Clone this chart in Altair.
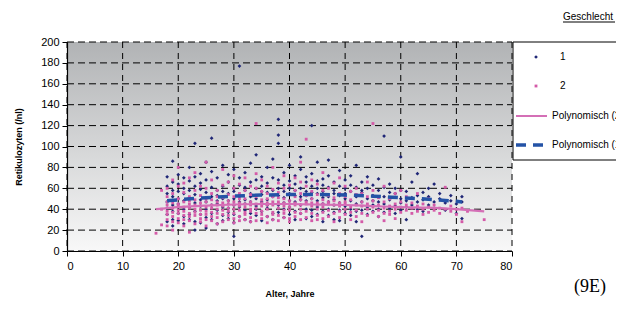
import altair as alt
import pandas as pd

# ---------------- data ----------------
X_TICKS = [0, 10, 20, 30, 40, 50, 60, 70, 80]
Y_TICKS = [0, 20, 40, 60, 80, 100, 120, 140, 160, 180, 200]

# Geschlecht 1 (blue): age -> reticulocyte values
SERIES_1 = {
    18: [47, 62, 35, 28, 55, 71, 41],
    19: [52, 66, 38, 30, 58, 86, 44, 24],
    20: [45, 73, 36, 57, 29, 50, 64],
    21: [40, 60, 33, 48, 70, 26, 55],
    22: [51, 42, 67, 35, 80, 30, 58],
    23: [103, 46, 62, 38, 54, 28, 71, 20],
    24: [49, 59, 35, 74, 43, 27, 65],
    25: [56, 40, 68, 32, 47, 85, 22],
    26: [108, 52, 44, 61, 36, 76, 30],
    27: [48, 58, 39, 70, 26, 53, 45],
    28: [62, 34, 50, 82, 42, 57, 29],
    29: [55, 41, 66, 31, 48, 73, 37],
    30: [50, 60, 35, 44, 78, 27, 57, 14],
    31: [177, 52, 42, 63, 33, 70, 47],
    32: [58, 39, 49, 75, 30, 61, 45],
    33: [47, 66, 36, 55, 84, 28, 52],
    34: [60, 43, 50, 68, 34, 92, 40],
    35: [54, 38, 62, 47, 29, 71, 57],
    36: [49, 65, 41, 80, 33, 56, 44],
    37: [58, 45, 70, 36, 52, 88, 30],
    38: [126, 111, 103, 60, 44, 53, 37, 68],
    39: [51, 63, 40, 75, 32, 57, 46],
    40: [55, 42, 67, 35, 48, 82, 60],
    41: [47, 58, 38, 72, 30, 53, 64],
    42: [60, 44, 52, 78, 36, 49, 90],
    43: [53, 66, 40, 48, 31, 71, 57],
    44: [120, 50, 62, 39, 56, 74, 33],
    45: [48, 60, 42, 55, 85, 35, 67],
    46: [57, 45, 69, 38, 51, 28, 63],
    47: [87, 52, 40, 61, 34, 72, 47],
    48: [49, 58, 37, 66, 44, 30, 55],
    49: [62, 46, 53, 77, 39, 29],
    50: [55, 43, 68, 36, 50, 60],
    51: [48, 57, 40, 72, 34, 63],
    52: [52, 45, 61, 38, 82, 28],
    53: [56, 14, 47, 66, 39, 58],
    54: [50, 60, 42, 71, 35],
    55: [53, 44, 63, 38, 48],
    56: [47, 58, 40, 69, 33],
    57: [110, 52, 45, 61, 37],
    58: [49, 56, 41, 64],
    59: [55, 43, 60, 36],
    60: [90, 50, 46, 58, 39],
    61: [48, 57, 42, 30],
    62: [66, 51, 44],
    63: [74, 47, 53, 40],
    64: [49, 56, 38],
    65: [52, 44, 60],
    66: [64, 47, 41],
    67: [50, 55],
    68: [46, 39],
    69: [48, 53],
    70: [45, 36],
    71: [31, 47, 52],
}

# Geschlecht 2 (pink)
SERIES_2 = {
    16: [17],
    17: [40, 58, 25],
    18: [44, 38, 52, 30, 60, 24, 47, 35],
    19: [41, 55, 33, 46, 28, 68, 37, 20],
    20: [43, 50, 36, 62, 27, 45, 39, 80, 31],
    21: [38, 47, 30, 56, 42, 24, 65, 34],
    22: [45, 36, 52, 29, 41, 70, 33, 48, 18],
    23: [40, 49, 34, 58, 26, 44, 37, 75],
    24: [46, 39, 53, 31, 43, 62, 28, 35],
    25: [42, 50, 35, 60, 24, 47, 38, 85, 30],
    26: [44, 37, 55, 29, 49, 41, 68, 33],
    27: [47, 40, 58, 32, 44, 26, 52, 36],
    28: [43, 51, 35, 63, 28, 46, 39, 78],
    29: [45, 38, 54, 30, 48, 41, 66, 34],
    30: [44, 52, 36, 60, 27, 47, 40, 72, 31],
    31: [46, 39, 55, 33, 43, 64, 29, 50],
    32: [42, 50, 37, 58, 30, 45, 70, 35],
    33: [47, 40, 54, 32, 44, 62, 28, 38],
    34: [122, 45, 52, 36, 60, 29, 41, 74],
    35: [43, 49, 35, 57, 31, 46, 68, 38],
    36: [46, 40, 55, 33, 44, 62, 27, 50],
    37: [44, 52, 37, 59, 30, 47, 80, 35],
    38: [47, 41, 56, 34, 45, 65, 29, 51],
    39: [43, 50, 36, 60, 32, 46, 72, 39],
    40: [45, 39, 54, 31, 48, 63, 28, 42],
    41: [46, 52, 37, 58, 33, 44, 70],
    42: [44, 40, 55, 30, 49, 66, 36, 85],
    43: [107, 45, 38, 53, 32, 47, 62],
    44: [43, 50, 36, 57, 29, 46, 68],
    45: [46, 40, 54, 34, 44, 64, 30],
    46: [42, 49, 37, 58, 31, 45, 75],
    47: [45, 39, 53, 33, 47, 60],
    48: [44, 51, 36, 28, 48, 65],
    49: [43, 38, 55, 32, 46, 70],
    50: [45, 40, 52, 35, 47, 62],
    51: [42, 49, 37, 57, 30],
    52: [44, 39, 54, 33, 60],
    53: [43, 47, 36, 55, 28],
    54: [45, 40, 52, 34, 66],
    55: [122, 42, 48, 37, 58],
    56: [44, 39, 51, 33],
    57: [41, 47, 36, 62, 29],
    58: [43, 38, 50, 35],
    59: [45, 40, 55, 31],
    60: [42, 47, 37, 58],
    61: [44, 39, 52],
    62: [41, 46, 36],
    63: [43, 38, 55],
    64: [40, 45, 35],
    65: [42, 37, 50],
    66: [39, 44],
    67: [41, 36],
    68: [61, 40],
    69: [38, 43],
    70: [40, 35],
    71: [28, 41],
    72: [38],
    75: [30],
}

# polynomial trend lines
TREND_1_AGES = [18, 20, 25, 30, 35, 40, 45, 50, 55, 60, 65, 70, 71]
TREND_1_VALS = [48, 49, 51, 52.5, 53.5, 54, 54, 53.5, 52.5, 51, 49.5, 47.5, 47]
TREND_2_AGES = [16, 20, 25, 30, 35, 40, 45, 50, 55, 60, 65, 70, 75]
TREND_2_VALS = [40, 42, 43.5, 44.5, 45, 45, 44.5, 44, 43, 42, 41.5, 40, 38]

LEGEND_TITLE = "Geschlecht"
LEGEND_LABELS = ["1", "2", "Polynomisch (2)", "Polynomisch (1)"]
X_TITLE = "Alter, Jahre"
Y_TITLE = "Retikulozyten (/nl)"
CORNER_NOTE = "(9E)"

# ---------------- build tables ----------------
def flatten(d):
    return pd.DataFrame([{"age": a, "ret": v} for a, vs in d.items() for v in vs])

s1 = flatten(SERIES_1)
s2 = flatten(SERIES_2)
t1 = pd.DataFrame({"age": TREND_1_AGES, "ret": TREND_1_VALS})
t2 = pd.DataFrame({"age": TREND_2_AGES, "ret": TREND_2_VALS})
xg = pd.DataFrame({"age": X_TICKS})
yg = pd.DataFrame({"ret": Y_TICKS})
one = pd.DataFrame({"k": [0]})

FONT = "Liberation Sans"
BLUE = "#1f2676"
PINK = "#d45aa8"
BLUE_LINE = "#2453a6"
PINK_LINE = "#d46fb6"
W, H = 445, 209

x_enc = alt.X(
    "age:Q",
    scale=alt.Scale(domain=[0, 80], nice=False, zero=False),
    axis=alt.Axis(
        values=X_TICKS, title=X_TITLE, grid=False, zindex=2,
        domainColor="#000000", domainWidth=1.2, tickColor="#000000", tickSize=5,
        labelFont=FONT, labelFontSize=11, labelColor="#000000", labelPadding=4,
        titleFont=FONT, titleFontSize=9, titleFontWeight="bold", titleColor="#000000",
        titlePadding=18,
    ),
)
y_enc = alt.Y(
    "ret:Q",
    scale=alt.Scale(domain=[0, 200], nice=False),
    axis=alt.Axis(
        values=Y_TICKS, title=Y_TITLE, grid=False, zindex=2,
        domainColor="#000000", domainWidth=1.2, tickColor="#000000", tickSize=5,
        labelFont=FONT, labelFontSize=11, labelColor="#000000", labelPadding=3,
        titleFont=FONT, titleFontSize=9, titleFontWeight="bold", titleColor="#000000",
        titlePadding=17,
    ),
)

base = alt.Chart(one)
bg = base.mark_rect(
    color=alt.LinearGradient(
        gradient="linear",
        stops=[alt.GradientStop(offset=0, color="#b1b3b5"),
               alt.GradientStop(offset=1, color="#f8f8f8")],
        x1=0, x2=0, y1=0, y2=1,
    )
).encode(x=alt.value(0), x2=alt.value(W), y=alt.value(0), y2=alt.value(H))

xgrid = alt.Chart(xg).mark_rule(color="#000000", strokeWidth=1, strokeDash=[6, 5]).encode(
    x=x_enc, y=alt.value(0), y2=alt.value(H))
ygrid = alt.Chart(yg).mark_rule(color="#000000", strokeWidth=1, strokeDash=[7, 4]).encode(
    y=y_enc, x=alt.value(0), x2=alt.value(W))

pts1 = alt.Chart(s1).mark_point(shape="diamond", filled=True, size=14, color=BLUE, opacity=1).encode(x=x_enc, y=y_enc)
pts2 = alt.Chart(s2).mark_square(size=8, color=PINK, opacity=1).encode(x=x_enc, y=y_enc)
line2 = alt.Chart(t2).mark_line(color=PINK_LINE, strokeWidth=2.2, interpolate="monotone").encode(x=x_enc, y=y_enc)
line1 = alt.Chart(t1).mark_line(color=BLUE_LINE, strokeWidth=3.5, strokeDash=[10, 7], interpolate="monotone").encode(x=x_enc, y=y_enc)

# ---------------- custom legend & notes ----------------
leg_box = base.mark_rect(fill="white", stroke="#000000", strokeWidth=1).encode(
    x=alt.value(446), x2=alt.value(600), y=alt.value(0), y2=alt.value(118))
leg_sym1 = base.mark_point(shape="diamond", filled=True, size=14, color=BLUE, opacity=1).encode(
    x=alt.value(469), y=alt.value(15))
leg_sym2 = base.mark_square(size=8, color=PINK, opacity=1).encode(x=alt.value(469), y=alt.value(44))
leg_l2 = base.mark_rule(color=PINK_LINE, strokeWidth=2).encode(
    x=alt.value(449), x2=alt.value(480), y=alt.value(74))
leg_l1 = base.mark_rule(color=BLUE_LINE, strokeWidth=3.5, strokeDash=[10, 7]).encode(
    x=alt.value(449), x2=alt.value(482), y=alt.value(103))

def txt(label, x, y, size=10):
    return base.mark_text(align="left", baseline="middle", font=FONT, fontSize=size,
                          color="#000000").encode(x=alt.value(x), y=alt.value(y), text=alt.value(label))

leg_t1 = txt(LEGEND_LABELS[0], 493, 15)
leg_t2 = txt(LEGEND_LABELS[1], 493, 44)
leg_t3 = txt(LEGEND_LABELS[2], 485, 74)
leg_t4 = txt(LEGEND_LABELS[3], 485, 103)
leg_title = base.mark_text(align="left", baseline="alphabetic", font=FONT, fontSize=10,
                           color="#000000").encode(x=alt.value(496), y=alt.value(-22), text=alt.value(LEGEND_TITLE))
leg_uline = base.mark_rule(color="#000000", strokeWidth=1).encode(
    x=alt.value(496), x2=alt.value(548), y=alt.value(-20))
note = base.mark_text(align="left", baseline="alphabetic", font="Liberation Serif", fontSize=18,
                      color="#000000").encode(x=alt.value(507), y=alt.value(250), text=alt.value(CORNER_NOTE))

chart = alt.layer(
    bg, xgrid, ygrid, pts1, pts2, line2, line1,
    leg_box, leg_sym1, leg_sym2, leg_l2, leg_l1, leg_t1, leg_t2, leg_t3, leg_t4,
    leg_title, leg_uline, note,
).properties(
    width=W, height=H,
    autosize=alt.AutoSizeParams(type="none"),
    padding={"left": 59, "top": 34, "right": 104, "bottom": 48},
    background="white",
).configure_view(strokeWidth=0)

chart.save("out.html", embed_options={"renderer": "svg", "actions": False})
